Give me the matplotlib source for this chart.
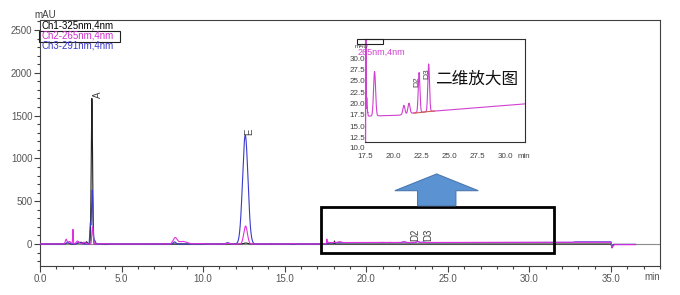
import numpy as np
import matplotlib
matplotlib.use("Agg")
import matplotlib.pyplot as plt
from matplotlib.patches import Rectangle, Polygon
from matplotlib.ticker import MultipleLocator, FormatStrFormatter

plt.rcParams['font.family'] = ['Liberation Sans', 'Noto Sans CJK SC', 'DejaVu Sans']

# ---------------- data ----------------
channel_names = ["Ch1-325nm,4nm", "Ch2-265nm,4nm", "Ch3-291nm,4nm"]
run_end = 36.5

# Ch1 (325 nm) baseline knots and peak table
ch1_base_t = [0.0, 35.0, 35.05, 35.15, 36.5]
ch1_base_v = [0.0, 0.0, -45.0, -5.0, -5.0]
ch1_rt = [1.7, 2.5, 2.85, 3.18, 12.6, 18.05]
ch1_height = [15, 20, 25, 1700, 12, 35]
ch1_sigma = [0.08, 0.15, 0.05, 0.04, 0.12, 0.015]

# Ch2 (265 nm)
ch2_base_t = [0.0, 17.45, 17.75, 20.5, 21.8, 23.6, 31.7, 35.0, 35.05, 35.2, 36.5]
ch2_base_v = [0.0, 0.0, 17.2, 17.4, 17.9, 18.3, 19.9, 20.5, -40.0, -8.0, -8.0]
ch2_rt = [1.6, 1.8, 2.02, 2.3, 2.7, 3.22, 4.0, 8.28, 8.75, 9.7, 11.5, 12.6, 15.5,
          17.58, 17.64, 18.35, 20.95, 21.4, 22.3, 23.15]
ch2_height = [55, 30, 170, 35, 20, 200, 5, 70, 30, 6, 8, 210, 5,
              45, 10, 9.8, 2.0, 2.3, 8.8, 10.5]
ch2_sigma = [0.05, 0.08, 0.02, 0.08, 0.1, 0.04, 0.1, 0.12, 0.25, 0.2, 0.1, 0.11, 0.1,
             0.012, 0.05, 0.09, 0.09, 0.09, 0.075, 0.075]

# Ch3 (291 nm)
ch3_base_t = [0.0, 17.5, 17.8, 32.6, 32.8, 35.0, 35.05, 35.15, 36.5]
ch3_base_v = [0.0, 0.0, 15.0, 18.0, 25.0, 25.0, -40.0, -5.0, -5.0]
ch3_rt = [1.7, 2.4, 3.08, 3.2, 3.35, 8.25, 11.5, 12.58, 14.2, 22.3, 23.15, 23.5]
ch3_height = [15, 20, 230, 630, 40, 25, 15, 1270, 6, 8, 12, 6]
ch3_sigma = [0.1, 0.1, 0.03, 0.045, 0.05, 0.08, 0.1, 0.165, 0.05, 0.08, 0.08, 0.08]

# integration baseline drawn under D2/D3 in the zoomed view
inset_bl_t = [21.85, 23.65]
inset_bl_v = [17.85, 18.35]

peak_labels = ["A", "E", "D2", "D3"]

# ---------------- figure ----------------
W, H = 680, 295
fig = plt.figure(figsize=(W / 100, H / 100), dpi=100)


def fx(px):
    return px / W


def fy(py):
    return 1 - py / H


t = np.linspace(0, run_end, 7301)


def trace(bt, bv, rt, h, s):
    y = np.interp(t, bt, bv)
    for r, a, w in zip(rt, h, s):
        y = y + a * np.exp(-0.5 * ((t - r) / w) ** 2)
    return y


ch1 = trace(ch1_base_t, ch1_base_v, ch1_rt, ch1_height, ch1_sigma)
ch2 = trace(ch2_base_t, ch2_base_v, ch2_rt, ch2_height, ch2_sigma)
ch3 = trace(ch3_base_t, ch3_base_v, ch3_rt, ch3_height, ch3_sigma)

ax = fig.add_axes([fx(40), fy(266), 620 / W, 246 / H])
ax.axhline(0, color='#8c8c8c', lw=0.8, zorder=1)
ax.plot(t, ch1, color='#222222', lw=0.8, zorder=2)
ax.plot(t, ch3, color='#3a3acc', lw=0.8, zorder=3)
ax.plot(t, ch2, color='#e030e0', lw=0.8, zorder=4)

ax.set_xlim(0, 38)
ax.set_ylim(-257, 2617)
ax.xaxis.set_major_locator(MultipleLocator(5))
ax.xaxis.set_minor_locator(MultipleLocator(1))
ax.xaxis.set_major_formatter(FormatStrFormatter('%.1f'))
ax.yaxis.set_major_locator(MultipleLocator(500))
ax.yaxis.set_minor_locator(MultipleLocator(100))
ax.tick_params(which='major', length=4, width=0.8, color='#404040',
               labelsize=7, labelcolor='#555555', pad=1.5)
ax.tick_params(which='minor', length=2.2, width=0.8, color='#404040')
for sp in ax.spines.values():
    sp.set_color('#404040')
    sp.set_linewidth(0.8)

lab_kw = dict(rotation=90, ha='center', va='bottom', fontsize=7, color='#404040')
ax.text(3.53, 1705, peak_labels[0], **lab_kw)
ax.text(12.85, 1275, peak_labels[1], **lab_kw)
ax.text(22.98, 30, peak_labels[2], **lab_kw)
ax.text(23.82, 30, peak_labels[3], **lab_kw)

# zoom rectangle
ax.add_patch(Rectangle((17.2, -105), 14.3, 537, fill=False, lw=2,
                       ec='black', zorder=6, clip_on=False))
# arrow
arrow = Polygon([(23.14, 447), (23.14, 623), (21.75, 623), (24.31, 818),
                 (26.86, 623), (25.49, 623), (25.49, 447)],
                closed=True, fc='#5b92d2', ec='#4a78b0', lw=0.8, zorder=6)
ax.add_patch(arrow)

fig.text(fx(652), fy(277), 'min', fontsize=7, color='#555555', ha='center', va='center')
fig.text(fx(45), fy(15), 'mAU', fontsize=7, color='#404040', ha='center', va='center')

# legend
leg_colors = ['black', '#d030d0', '#3a3acc']
leg_y = [25.7, 35.6, 45.3]
for name, c, yy in zip(channel_names, leg_colors, leg_y):
    fig.text(fx(41), fy(yy), name, fontsize=7, color=c, ha='left', va='center')
fig.add_artist(Rectangle((fx(39.3), fy(42)), 80.7 / W, 11 / H, transform=fig.transFigure,
                         fill=False, lw=0.8, ec='#202020'))

# ---------------- inset (zoomed Ch2) ----------------
axi = fig.add_axes([fx(365), fy(142), 160 / W, 103 / H], zorder=5)
axi.set_facecolor('white')
mask = t >= 17.5
axi.plot(t[mask], ch2[mask], color='#d040d0', lw=0.8)
axi.plot(inset_bl_t, inset_bl_v, color='#d0604a', lw=0.8)
axi.set_xlim(17.5, 31.7)
axi.set_ylim(11.5, 34.2)
axi.set_xticks(np.arange(17.5, 30.01, 2.5))
axi.xaxis.set_major_formatter(FormatStrFormatter('%.1f'))
axi.set_yticks(np.arange(12.5, 30.01, 2.5))
axi.yaxis.set_major_formatter(FormatStrFormatter('%.1f'))
axi.tick_params(axis='x', length=0, labelsize=5.8, labelcolor='#404040', pad=8)
axi.tick_params(axis='y', length=0, labelsize=5.8, labelcolor='#404040', pad=0)
for side, sp in axi.spines.items():
    sp.set_linewidth(0.8)
    sp.set_color('#303030')
axi.spines['left'].set_color('#d040d0')
axi.text(17.5, 10.0, '10.0', fontsize=5.8, color='#404040', ha='right', va='center',
         transform=axi.transData, clip_on=False)
axi.text(22.14, 24.8, peak_labels[2], rotation=90, ha='center', va='center',
         fontsize=6, color='#404040')
axi.text(23.02, 26.65, peak_labels[3], rotation=90, ha='center', va='center',
         fontsize=6, color='#404040')

fig.add_artist(Rectangle((fx(357), fy(44)), 26 / W, 5 / H, transform=fig.transFigure,
                         fill=False, lw=0.8, ec='#202020', zorder=10))
fig.text(fx(362), fy(46.5), 'mAU', fontsize=4.5, color='#404040', ha='center', va='center', zorder=10)
fig.text(fx(358), fy(52.5), '265nm,4nm', fontsize=6.5, color='#d040d0', ha='left', va='center', zorder=10)
fig.text(fx(524), fy(157), 'min', fontsize=5.8, color='#404040', ha='center', va='center', zorder=10)
fig.text(fx(477), fy(79), '二维放大图', fontsize=12, color='#111111', ha='center', va='center',
         zorder=10)

fig.savefig('out.png', dpi=100)
